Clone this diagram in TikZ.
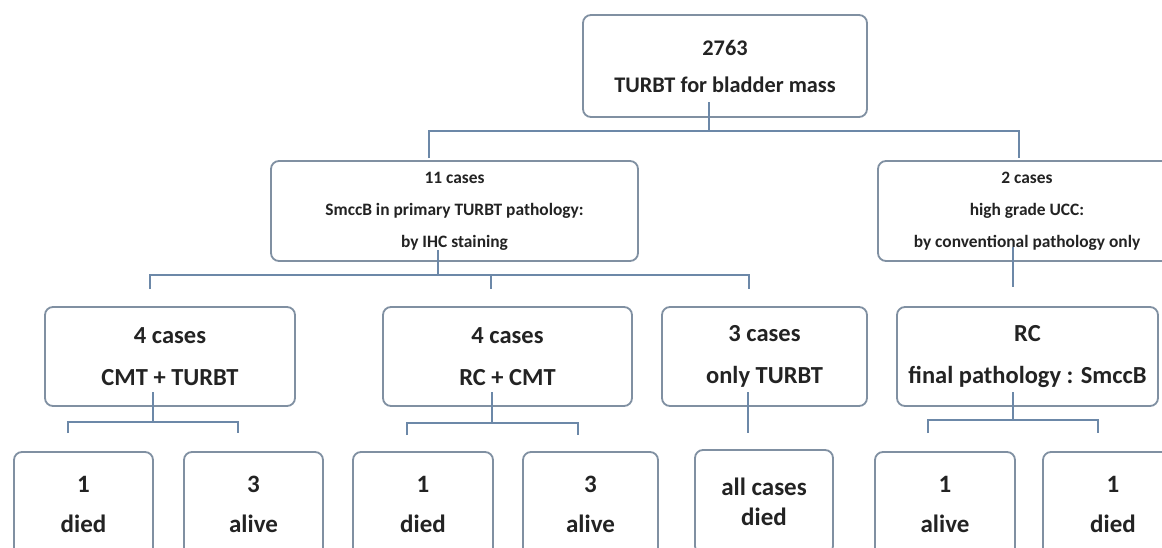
\documentclass[tikz,border=0pt]{standalone}
\usepackage{fontspec}
\setmainfont{Carlito}
\definecolor{boxc}{RGB}{128,144,162}
\definecolor{linec}{RGB}{108,136,168}
\definecolor{txt}{RGB}{35,35,35}
\begin{document}
\begin{tikzpicture}[x=1pt,y=-1pt,
  box/.style={draw=boxc, line width=1.8pt, rounded corners=8pt, fill=white, align=center, text=txt, inner sep=0pt},
  bigtxt/.style={font=\fontsize{22.3}{37}\selectfont\bfseries},
  midtxt/.style={font=\fontsize{17.4}{32}\selectfont\bfseries},
  rowtxt/.style={font=\fontsize{24.5}{42}\selectfont\bfseries},
  leaftxt/.style={font=\fontsize{25}{40}\selectfont\bfseries},
  conn/.style={draw=linec, line width=2.2pt}]
\useasboundingbox (0,0) rectangle (1162,547);
\fill[white] (0,0) rectangle (1162,547);
\clip (0,0) rectangle (1162,547);
% level 1
\node[box, bigtxt, minimum width=284pt, minimum height=102pt] (T) at (725,66) {2763\\TURBT for bladder mass};
% level 2
\node[box, midtxt, minimum width=367pt, minimum height=100pt] (M1) at (454.5,211) {11 cases\\SmccB in primary TURBT pathology:\\by IHC staining};
\node[box, midtxt, minimum width=298pt, minimum height=100pt] (M2) at (1027,211) {2 cases\\high grade UCC:\\by conventional pathology only};
% level 3
\node[box, rowtxt, minimum width=250pt, minimum height=99pt] (A) at (170,356.5) {4 cases\\CMT + TURBT};
\node[box, rowtxt, minimum width=249pt, minimum height=99pt] (B) at (507.5,356.5) {4 cases\\RC + CMT};
\node[box, rowtxt, minimum width=205pt, minimum height=99pt] (C) at (764.5,356.5) {3 cases\\only TURBT};
\node[box, rowtxt, minimum width=261pt, minimum height=99pt] (D) at (1027.5,356.5) {RC\\final pathology : SmccB};
% level 4
\node[box, leaftxt, minimum width=139pt, minimum height=104pt] (A1) at (83.5,504) {1\\died};
\node[box, leaftxt, minimum width=139pt, minimum height=104pt] (A2) at (253.5,504) {3\\alive};
\node[box, leaftxt, minimum width=140pt, minimum height=104pt] (B1) at (423,504) {1\\died};
\node[box, leaftxt, minimum width=135pt, minimum height=104pt] (B2) at (590.5,504) {3\\alive};
\node[box, font=\fontsize{25}{30}\selectfont\bfseries, minimum width=138pt, minimum height=104pt] (C1) at (764,502) {all cases\\died};
\node[box, leaftxt, minimum width=140pt, minimum height=104pt] (D1) at (945,504) {1\\alive};
\node[box, leaftxt, minimum width=140pt, minimum height=104pt] (D2) at (1113,504) {1\\died};
% junction coordinates
\coordinate (tS) at (709,102);   \coordinate (tJ) at (709,131);
\coordinate (tL) at (429,131);   \coordinate (tR) at (1019,131);
\coordinate (tLd) at (429,158);  \coordinate (tRd) at (1019,158);
\coordinate (m1S) at (438,250);  \coordinate (m1J) at (438,275);
\coordinate (m1L) at (150,275);  \coordinate (m1M) at (491,275); \coordinate (m1R) at (749,275);
\coordinate (m1Ld) at (150,289); \coordinate (m1Md) at (491,289); \coordinate (m1Rd) at (749,289);
\coordinate (m2S) at (1013,247); \coordinate (m2E) at (1013,287);
\coordinate (aS) at (153,392);   \coordinate (aJ) at (153,422);
\coordinate (aL) at (68,422);    \coordinate (aR) at (238,422);
\coordinate (aLd) at (68,433);   \coordinate (aRd) at (238,433);
\coordinate (bS) at (492,392);   \coordinate (bJ) at (492,423);
\coordinate (bL) at (407,423);   \coordinate (bR) at (578,423);
\coordinate (bLd) at (407,435);  \coordinate (bRd) at (578,435);
\coordinate (cS) at (748,392);   \coordinate (cE) at (748,433);
\coordinate (dS) at (1013,392);  \coordinate (dJ) at (1013,420);
\coordinate (dL) at (928,420);   \coordinate (dR) at (1098,420);
\coordinate (dLd) at (928,433);  \coordinate (dRd) at (1098,433);
% connectors
\draw[conn] (tS) -- (tJ);
\draw[conn] (tLd) -- (tL) -- (tR) -- (tRd);
\draw[conn] (m1S) -- (m1J);
\draw[conn] (m1Ld) -- (m1L) -- (m1R) -- (m1Rd);
\draw[conn] (m1M) -- (m1Md);
\draw[conn] (m2S) -- (m2E);
\draw[conn] (aS) -- (aJ);
\draw[conn] (aLd) -- (aL) -- (aR) -- (aRd);
\draw[conn] (bS) -- (bJ);
\draw[conn] (bLd) -- (bL) -- (bR) -- (bRd);
\draw[conn] (cS) -- (cE);
\draw[conn] (dS) -- (dJ);
\draw[conn] (dLd) -- (dL) -- (dR) -- (dRd);
\end{tikzpicture}
\end{document}
